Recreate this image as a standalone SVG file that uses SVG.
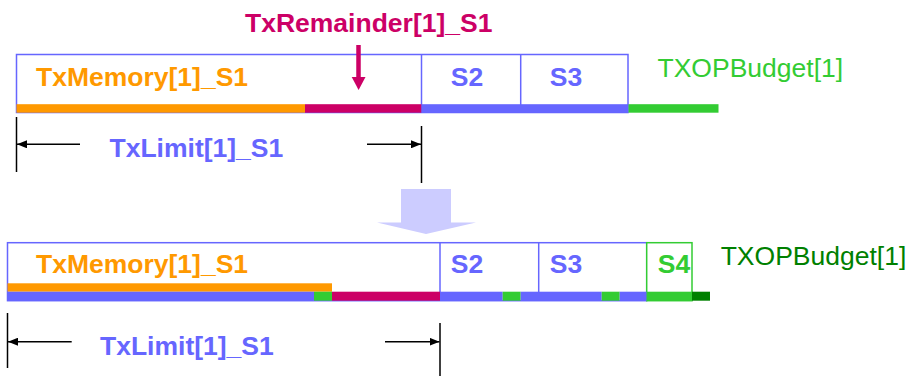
<svg xmlns="http://www.w3.org/2000/svg" width="913" height="376" viewBox="0 0 913 376">
  <style>
    .b { font-family: "Liberation Sans", Arial, sans-serif; font-size: 26.5px; font-weight: bold; }
    .r { font-family: "Liberation Sans", Arial, sans-serif; font-size: 26.5px; }
    .frame { fill: #FFFFFF; stroke: #6666FF; stroke-width: 1.5; }
    .tick { stroke: #000000; stroke-width: 1.5; fill: none; }
    .dim { stroke: #000000; stroke-width: 1.5; fill: none; marker-end: url(#dimHead); }
  </style>
  <defs>
    <marker id="dimHead" viewBox="0 0 10 8" refX="10" refY="4" markerWidth="10" markerHeight="8" markerUnits="userSpaceOnUse" orient="auto">
      <path d="M0,0 L10,4 L0,8 Z" fill="#000000"/>
    </marker>
  </defs>

  <rect width="913" height="376" fill="#FFFFFF"/>

  <!-- Before: S1 / S2 / S3 slots -->
  <g id="before-slots">
    <rect class="frame" x="16.5" y="54.5" width="611.5" height="58"/>
    <line x1="421.5" y1="54.5" x2="421.5" y2="112.5" stroke="#6666FF" stroke-width="1.5"/>
    <line x1="520.7" y1="54.5" x2="520.7" y2="112.5" stroke="#6666FF" stroke-width="1.5"/>
    <rect x="16.5" y="104.2" width="288.5" height="8.5" fill="#FF9900"/>
    <rect x="305" y="104.2" width="116.5" height="8.5" fill="#CC0066"/>
    <rect x="421.5" y="104.2" width="207" height="8.5" fill="#6666FF"/>
    <rect x="628.5" y="104.2" width="90" height="8.5" fill="#33CC33"/>
    <text class="b" x="36" y="86" fill="#FF9900">TxMemory[1]_S1</text>
    <text class="b" x="467" y="86" fill="#6666FF" text-anchor="middle">S2</text>
    <text class="b" x="566" y="86" fill="#6666FF" text-anchor="middle">S3</text>
    <text class="r" x="657.5" y="77" fill="#33CC33">TXOPBudget[1]</text>
  </g>

  <g id="remainder-label">
    <text class="b" x="245" y="32" fill="#CC0066">TxRemainder[1]_S1</text>
  </g>

  <!-- After: S1 / S2 / S3 / S4 slots -->
  <g id="after-slots">
    <rect class="frame" x="7.5" y="242.7" width="639.2" height="58"/>
    <line x1="440" y1="242.7" x2="440" y2="300.7" stroke="#6666FF" stroke-width="1.5"/>
    <line x1="538.7" y1="242.7" x2="538.7" y2="300.7" stroke="#6666FF" stroke-width="1.5"/>
    <rect x="646.7" y="242.7" width="45.3" height="58" fill="#FFFFFF" stroke="#33CC33" stroke-width="1.5"/>
    <rect x="7.5" y="283.3" width="324.5" height="8.4" fill="#FF9900"/>
    <rect x="7.5" y="291.7" width="306.5" height="9" fill="#6666FF"/>
    <rect x="314" y="291.7" width="18" height="9" fill="#33CC33"/>
    <rect x="332" y="291.7" width="108" height="9" fill="#CC0066"/>
    <rect x="440" y="291.7" width="62.7" height="9" fill="#6666FF"/>
    <rect x="502.7" y="291.7" width="18" height="9" fill="#33CC33"/>
    <rect x="520.7" y="291.7" width="81" height="9" fill="#6666FF"/>
    <rect x="601.7" y="291.7" width="18" height="9" fill="#33CC33"/>
    <rect x="619.7" y="291.7" width="27" height="9" fill="#6666FF"/>
    <rect x="646.7" y="291.7" width="45.3" height="9" fill="#33CC33"/>
    <rect x="692" y="291.7" width="18" height="9" fill="#008000"/>
    <text class="b" x="36" y="273" fill="#FF9900">TxMemory[1]_S1</text>
    <text class="b" x="467" y="273" fill="#6666FF" text-anchor="middle">S2</text>
    <text class="b" x="566" y="273" fill="#6666FF" text-anchor="middle">S3</text>
    <text class="b" x="674" y="273" fill="#33CC33" text-anchor="middle">S4</text>
    <text class="r" x="720.7" y="265" fill="#008000">TXOPBudget[1]</text>
  </g>

  <g id="connectors">
    <!-- remainder pointer -->
    <line x1="358.5" y1="45" x2="358.5" y2="78" stroke="#CC0066" stroke-width="4.5"/>
    <polygon points="351.7,77 365.5,77 358.6,90" fill="#CC0066"/>

    <!-- transition arrow -->
    <polygon points="401,189 451,189 451,222.5 476,222.5 426,234 377,222.5 401,222.5" fill="#CCCCFF"/>

    <!-- TxLimit span, before -->
    <line class="tick" x1="16.5" y1="117" x2="16.5" y2="172"/>
    <line class="tick" x1="421.5" y1="126" x2="421.5" y2="183"/>
    <line class="dim" x1="80" y1="144.3" x2="17" y2="144.3"/>
    <line class="dim" x1="367" y1="144.3" x2="421" y2="144.3"/>
    <text class="b" x="109.5" y="156.5" fill="#6666FF">TxLimit[1]_S1</text>

    <!-- TxLimit span, after -->
    <line class="tick" x1="7.5" y1="313" x2="7.5" y2="368"/>
    <line class="tick" x1="440" y1="323" x2="440" y2="376"/>
    <line class="dim" x1="71.7" y1="341.7" x2="8" y2="341.7"/>
    <line class="dim" x1="385" y1="341.7" x2="439.5" y2="341.7"/>
    <text class="b" x="100" y="355" fill="#6666FF">TxLimit[1]_S1</text>
  </g>
</svg>
